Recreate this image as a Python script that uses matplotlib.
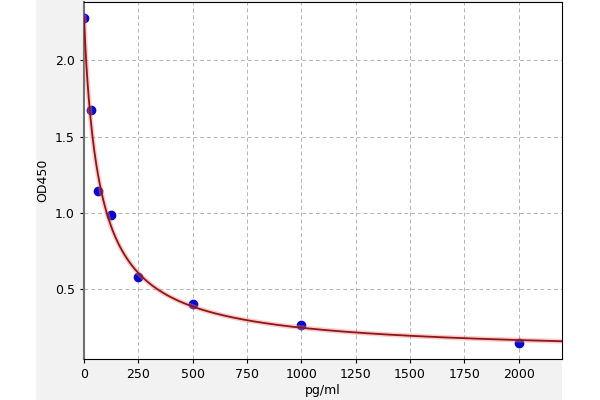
import numpy as np
import matplotlib
matplotlib.use('Agg')
import matplotlib.pyplot as plt
from matplotlib.patches import Rectangle

# Puntos estándar
conc = [0, 31.25, 62.5, 125, 250, 500, 1000, 2000]
od450 = [2.275, 1.673, 1.144, 0.987, 0.580, 0.404, 0.264, 0.147]

x_ticks = [0, 250, 500, 750, 1000, 1250, 1500, 1750, 2000]
y_ticks = [0.5, 1.0, 1.5, 2.0]


def ajuste_4pl(x, y):
    """Ajuste logístico de 4 parámetros: malla en B y C, A y D lineales"""
    x = np.asarray(x, float)
    y = np.asarray(y, float)
    mejor = None
    for b in np.linspace(0.3, 2.5, 111):
        for c in np.logspace(0.5, 3.5, 301):
            g = 1.0 / (1.0 + (x / c) ** b)
            M = np.column_stack([g, 1 - g])
            coef, *_ = np.linalg.lstsq(M, y, rcond=None)
            err = np.sum((M @ coef - y) ** 2)
            if mejor is None or err < mejor[0]:
                mejor = (err, coef[0], b, c, coef[1])
    return mejor[1:]


a, b, c, d = ajuste_4pl(conc, od450)
xs = np.linspace(0, 2200, 800)
ys = d + (a - d) / (1 + (xs / c) ** b)

fig = plt.figure(figsize=(6, 4), dpi=100, facecolor='white')
fig.patches.append(Rectangle((0.06, 0), 0.877, 1, transform=fig.transFigure,
                             facecolor='#f2f2f2', edgecolor='none', zorder=-10))
ax = fig.add_axes([0.14, 0.1025, 0.7967, 0.8935])
ax.set_facecolor('white')

ax.plot(conc, od450, 'o', color='#0a0acc', markersize=6, zorder=3)
ax.plot(xs, ys, color='#f08080', linewidth=3.5, alpha=0.4, zorder=4)
ax.plot(xs, ys, color='#8e1616', linewidth=1.3, zorder=5)

ax.set_xlim(0, 2200)
ax.set_ylim(0.044, 2.383)
ax.set_xticks(x_ticks)
ax.set_yticks(y_ticks)
ax.grid(True, color='#b4b4b4', linestyle=(0, (4, 3)), linewidth=0.7)
ax.tick_params(labelsize=9, length=3)

ax.spines['left'].set_color('#707070')
ax.spines['left'].set_linewidth(1.5)

ax.set_xlabel('pg/ml', fontsize=9, labelpad=2)
ax.set_ylabel('OD450', fontsize=9)

fig.savefig('out.png', dpi=100, facecolor=fig.get_facecolor())
